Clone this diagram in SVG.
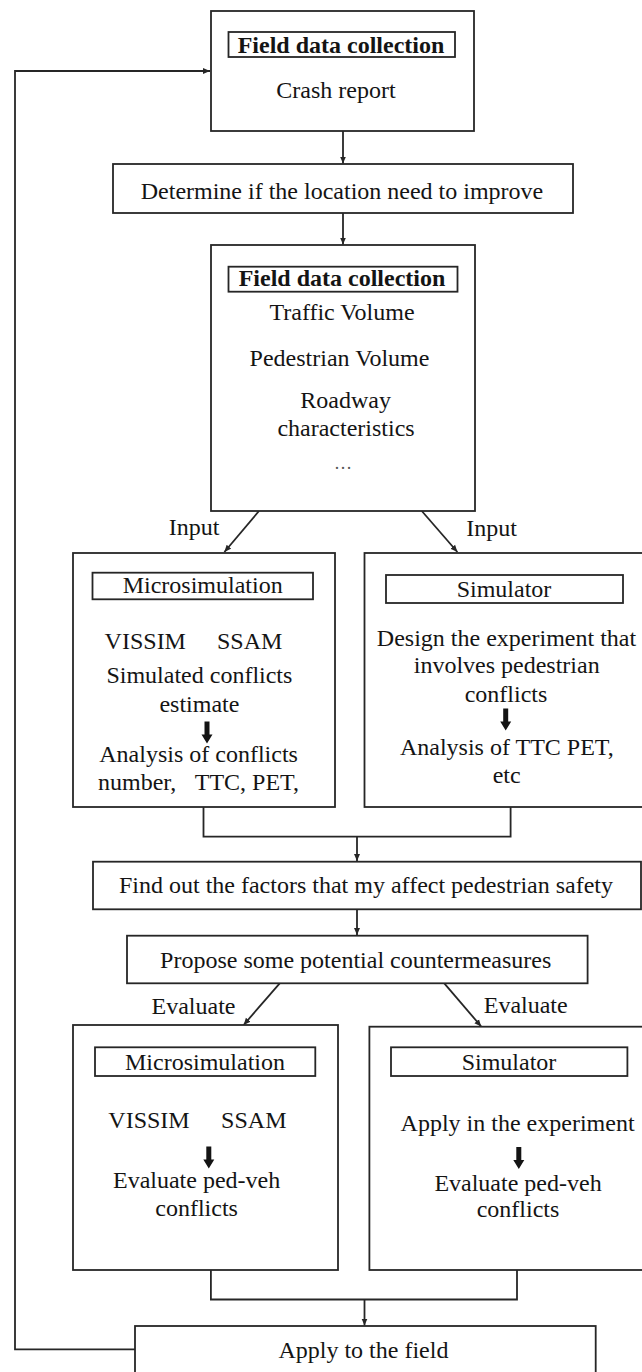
<svg xmlns="http://www.w3.org/2000/svg" xmlns:xlink="http://www.w3.org/1999/xlink" width="642" height="1372" viewBox="0 0 642 1372" font-family="Liberation Serif, serif">
<style>
.box{fill:#fff;stroke:#262626;stroke-width:1.8}
.tbox{fill:#fff;stroke:#262626;stroke-width:1.8}
.t{font-family:'Liberation Serif',serif;font-size:24px;fill:#141414;text-anchor:middle}
.b{font-weight:bold}
.ln{fill:none;stroke:#262626;stroke-width:1.8}
.th{fill:#141414}
</style>
<defs>
<marker id="ah" markerUnits="userSpaceOnUse" markerWidth="7" markerHeight="7" refX="7" refY="3.5" orient="auto">
<path d="M0,0.5 L7,3.5 L0,6.5 Z" fill="#262626"/>
</marker>
<path id="tharrow" d="M-2.5,0 H2.5 V13 H5.5 L0,22 L-5.5,13 H-2.5 Z"/>
</defs>
<rect width="642" height="1372" fill="#fff"/>

<g id="connectors">
<path class="ln" d="M135,1349.3 H15 V71 H210" marker-end="url(#ah)"/>
<path class="ln" d="M343,131 V163.5" marker-end="url(#ah)"/>
<path class="ln" d="M343,213 V244.5" marker-end="url(#ah)"/>
<path class="ln" d="M259,511 L224.4,552" marker-end="url(#ah)"/>
<path class="ln" d="M421.8,511 L457.4,552" marker-end="url(#ah)"/>
<path class="ln" d="M203.5,807 V836.7 H510.6 V807"/>
<path class="ln" d="M357,836.7 V861" marker-end="url(#ah)"/>
<path class="ln" d="M357,909.3 V935" marker-end="url(#ah)"/>
<path class="ln" d="M279.7,983.3 L243.6,1025" marker-end="url(#ah)"/>
<path class="ln" d="M444.3,983.3 L481.2,1026.5" marker-end="url(#ah)"/>
<path class="ln" d="M210.9,1270 V1299.5 H517 V1270"/>
<path class="ln" d="M364.5,1299.5 V1325.5" marker-end="url(#ah)"/>
<text class="t" x="194" y="535">Input</text>
<text class="t" x="491.5" y="536">Input</text>
<text class="t" x="193.5" y="1014">Evaluate</text>
<text class="t" x="525.7" y="1013">Evaluate</text>
</g>

<g id="n1">
<rect class="box" x="211" y="11" width="263" height="120"/>
<rect class="tbox" x="228.5" y="32" width="226.5" height="25"/>
<text class="t b" x="341" y="53">Field data collection</text>
<text class="t" x="336" y="98">Crash report</text>
</g>

<g id="n2">
<rect class="box" x="113" y="164" width="460" height="49"/>
<text class="t" x="342" y="199">Determine if the location need to improve</text>
</g>

<g id="n3">
<rect class="box" x="211" y="245" width="264" height="266"/>
<rect class="tbox" x="228.5" y="266.7" width="229" height="25"/>
<text class="t b" x="342" y="286">Field data collection</text>
<text class="t" x="342" y="320">Traffic Volume</text>
<text class="t" x="339.5" y="366">Pedestrian Volume</text>
<text class="t" x="345.6" y="408">Roadway</text>
<text class="t" x="346" y="436">characteristics</text>
<text class="t" x="343" y="469" style="font-size:18px;fill:#555">…</text>
</g>

<g id="n4">
<rect class="box" x="73" y="553" width="262" height="254"/>
<rect class="tbox" x="92.5" y="572.7" width="220.5" height="26.6"/>
<text class="t" x="202.7" y="593">Microsimulation</text>
<text class="t" x="145.3" y="649">VISSIM</text>
<text class="t" x="249.7" y="649">SSAM</text>
<text class="t" x="199.4" y="683">Simulated conflicts</text>
<text class="t" x="199.4" y="711.7">estimate</text>
<use xlink:href="#tharrow" class="th" x="207" y="721.5"/>
<text class="t" x="198.6" y="761.7">Analysis of conflicts</text>
<text class="t" x="98" y="790" style="text-anchor:start">number,</text>
<text class="t" x="299" y="790" style="text-anchor:end">TTC, PET,</text>
</g>

<g id="n5">
<rect class="box" x="364.5" y="553" width="290" height="254"/>
<rect class="tbox" x="386" y="575" width="237" height="28"/>
<text class="t" x="504" y="597">Simulator</text>
<text class="t" x="506.5" y="646">Design the experiment that</text>
<text class="t" x="506.7" y="673">involves pedestrian</text>
<text class="t" x="506" y="701.7">conflicts</text>
<use xlink:href="#tharrow" class="th" x="505.7" y="708.5"/>
<text class="t" x="506.8" y="755">Analysis of TTC PET,</text>
<text class="t" x="506.7" y="783">etc</text>
</g>

<g id="n6">
<rect class="box" x="93" y="861.7" width="548" height="47.6"/>
<text class="t" x="366" y="893">Find out the factors that my affect pedestrian safety</text>
</g>

<g id="n7">
<rect class="box" x="127" y="935.7" width="460.6" height="47.6"/>
<text class="t" x="355.7" y="967.7">Propose some potential countermeasures</text>
</g>

<g id="n8">
<rect class="box" x="73" y="1025" width="265" height="245"/>
<rect class="tbox" x="95" y="1047.3" width="220.3" height="28.7"/>
<text class="t" x="205" y="1070">Microsimulation</text>
<text class="t" x="149" y="1128">VISSIM</text>
<text class="t" x="253.8" y="1128">SSAM</text>
<use xlink:href="#tharrow" class="th" x="208.8" y="1146.5"/>
<text class="t" x="196.6" y="1188.3">Evaluate ped-veh</text>
<text class="t" x="196.6" y="1216">conflicts</text>
</g>

<g id="n9">
<rect class="box" x="369.4" y="1026.7" width="290" height="243.3"/>
<rect class="tbox" x="391" y="1047.3" width="236.4" height="28.7"/>
<text class="t" x="509" y="1070">Simulator</text>
<text class="t" x="517.6" y="1130.7">Apply in the experiment</text>
<use xlink:href="#tharrow" class="th" x="518.8" y="1147"/>
<text class="t" x="518" y="1190.7">Evaluate ped-veh</text>
<text class="t" x="518" y="1217.3">conflicts</text>
</g>

<g id="n10">
<rect class="box" x="135" y="1326" width="460.7" height="60"/>
<text class="t" x="363.4" y="1358.3">Apply to the field</text>
</g>
</svg>
